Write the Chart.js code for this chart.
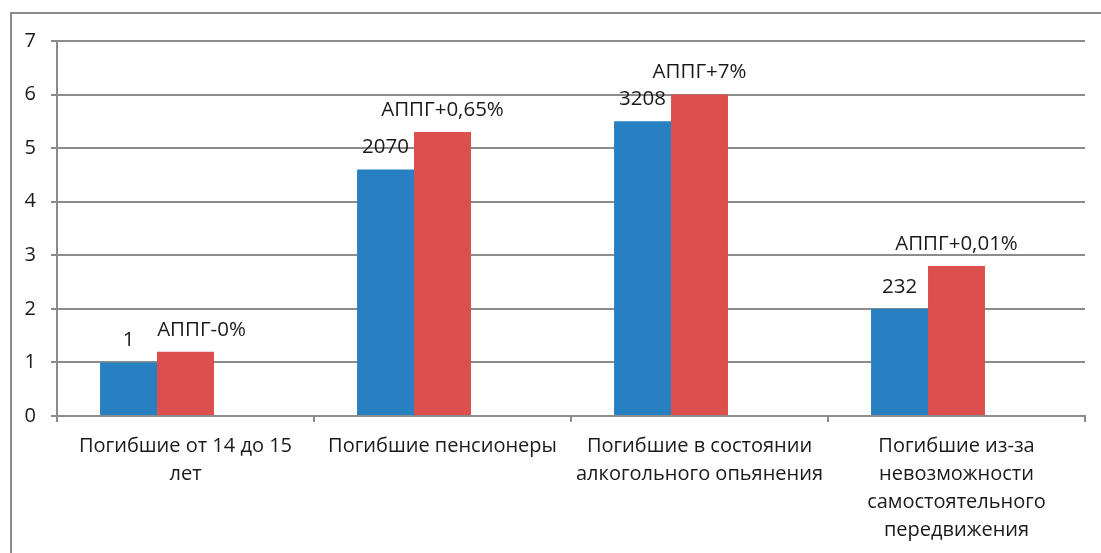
<!DOCTYPE html>
<html>
<head>
<meta charset="utf-8">
<script src="https://cdn.jsdelivr.net/npm/chart.js@4/dist/chart.umd.min.js"></script>
<style>
    html, body { margin: 0; padding: 0; background: #fff; overflow: hidden; }
    #frame {
        position: absolute;
        left: 10px;
        top: 12px;
        width: 1200px;
        height: 700px;
        border-left: 2px solid #8c8c8c;
        border-top: 2px solid #8c8c8c;
    }
    #wrap { position: absolute; left: 0; top: 0; width: 1101px; height: 553px; }
</style>
</head>
<body>
<div id="frame"></div>
<div id="wrap"><canvas id="chart" width="1101" height="553"></canvas></div>
<script>
const categories = [
    ['Погибшие от 14 до 15', 'лет'],
    ['Погибшие пенсионеры'],
    ['Погибшие в состоянии', 'алкогольного опьянения'],
    ['Погибшие из-за', 'невозможности', 'самостоятельного', 'передвижения']
];
const blueValues = [1.0, 4.6, 5.5, 2.0];
const redValues = [1.2, 5.3, 6.0, 2.8];
const emptyValues = [0, 0, 0, 0];
const blueLabels = ['1', '2070', '3208', '232'];
const redLabels = ['АППГ-0%', 'АППГ+0,65%', 'АППГ+7%', 'АППГ+0,01%'];
const yTicks = [0, 1, 2, 3, 4, 5, 6, 7];

const FONT = '"Open Sans", sans-serif';
const GRID = '#8c8c8c';

// draws the numbers above the bars
const barLabels = {
    id: 'barLabels',
    afterDatasetsDraw(chart, args, opts) {
        const ctx = chart.ctx;
        ctx.save();
        ctx.font = opts.size + 'px ' + FONT;
        ctx.fillStyle = '#1a1a1a';
        ctx.textAlign = 'center';
        ctx.textBaseline = 'middle';
        opts.sets.forEach(set => {
            const meta = chart.getDatasetMeta(set.index);
            meta.data.forEach((bar, i) => {
                const dx = (set.nudge && set.nudge[i]) || 0;
                ctx.fillText(set.texts[i], bar.x + dx, bar.y - opts.gap);
            });
        });
        ctx.restore();
    }
};

new Chart(document.getElementById('chart'), {
    type: 'bar',
    data: {
        labels: categories,
        datasets: [
            { data: blueValues, backgroundColor: '#2680c2' },
            { data: redValues, backgroundColor: '#dd4f4c' },
            { data: emptyValues, backgroundColor: 'transparent' }
        ]
    },
    options: {
        responsive: false,
        animation: false,
        events: [],
        layout: { padding: { top: 41, right: 16, left: 0, bottom: 0 } },
        datasets: {
            bar: { categoryPercentage: 0.665, barPercentage: 1.0 }
        },
        plugins: {
            legend: { display: false },
            tooltip: { enabled: false },
            barLabels: {
                size: 20.5,
                gap: 22,
                sets: [
                    { index: 0, texts: blueLabels },
                    { index: 1, texts: redLabels, nudge: [16, 0, 0, 0] }
                ]
            }
        },
        scales: {
            x: {
                afterFit(scale) { scale.height = 137; },
                grid: {
                    offset: true,
                    drawOnChartArea: false,
                    drawTicks: true,
                    tickLength: 6,
                    color: GRID,
                    lineWidth: 2
                },
                border: { color: GRID, width: 2 },
                ticks: {
                    color: '#1a1a1a',
                    padding: 10,
                    maxRotation: 0,
                    autoSkip: false,
                    font: { family: FONT, size: 20, lineHeight: 28 / 20 }
                }
            },
            y: {
                min: 0,
                max: 7,
                afterFit(scale) { scale.width = 57; },
                afterBuildTicks(scale) { scale.ticks = yTicks.map(v => ({ value: v })); },
                grid: {
                    color: GRID,
                    lineWidth: 2,
                    tickLength: 6
                },
                border: { color: GRID, width: 2 },
                ticks: {
                    color: '#1a1a1a',
                    padding: 15,
                    font: { family: FONT, size: 20 }
                }
            }
        }
    },
    plugins: [barLabels]
});
</script>
</body>
</html>
